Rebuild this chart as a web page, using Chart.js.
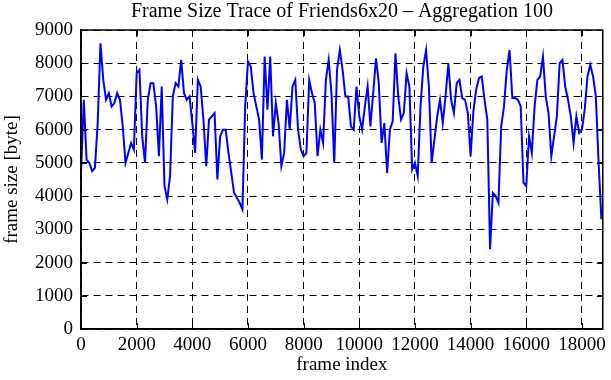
<!DOCTYPE html>
<html>
<head>
<meta charset="utf-8">
<script src="https://cdn.jsdelivr.net/npm/chart.js@4"></script>
<style>
  html, body { margin: 0; padding: 0; background: #fff; }
  #caixa { width: 611px; height: 380px; }
</style>
</head>
<body>
<div id="caixa"><canvas id="graficoTrace" width="611" height="380"></canvas></div>
<script>
// Dados do trace (um ponto a cada 100 quadros)
const PASSO_AGREGACAO = 100;
const tamanhoQuadro = [
  4700, 6900, 5100, 5000, 4750, 4850, 6200, 8600, 7500, 6900,
  7100, 6700, 6800, 7100, 6900, 6100, 5000, 5300, 5600, 5400,
  7700, 7800, 5800, 5000, 6900, 7400, 7400, 6700, 5200, 7300,
  4300, 3900, 4600, 7000, 7400, 7300, 8100, 7100, 6900, 7000,
  6200, 5300, 7500, 7300, 6300, 4900, 6300, 6400, 6500, 4500,
  5800, 6000, 6000, 5300, 4700, 4100, 3950, 3800, 3600, 6700,
  8050, 7900, 7100, 6700, 6300, 5100, 8200, 6600, 8200, 5800,
  6800, 6200, 4900, 5300, 6900, 6000, 7300, 7500, 6000, 5400,
  5200, 5300, 7500, 7100, 6800, 5200, 6000, 5600, 7500, 8100,
  7100, 5000, 7800, 8400, 7800, 7000, 7000, 6100, 6000, 7300,
  6400, 6000, 6700, 7300, 6100, 7100, 8150, 7400, 5600, 6200,
  4700, 6000, 6250, 8300, 7000, 6300, 6500, 7700, 7300, 4800,
  5000, 4600, 6700, 7900, 8400, 7300, 5000, 5700, 6400, 6900,
  6200, 7000, 8000, 6900, 6500, 7400, 7500, 6950, 6900, 6500,
  5200, 6550, 7200, 7550, 7600, 6900, 6300, 2400, 4100, 4000,
  3800, 6100, 6700, 7800, 8400, 6950, 6950, 6900, 6700, 4400,
  4300, 5800, 5300, 6700, 7500, 7600, 8200, 7000, 6500, 5200,
  5800, 6400, 8000, 8100, 7300, 6900, 6400, 5600, 6400, 5900,
  6000, 6600, 7600, 7950, 7600, 7000, 5000, 3300
];

// Ticks dos eixos
const ticksX = [0, 2000, 4000, 6000, 8000, 10000, 12000, 14000, 16000, 18000];
const ticksY = [0, 1000, 2000, 3000, 4000, 5000, 6000, 7000, 8000, 9000];
const MAX_X = 18750;

// Monta os pontos {x, y} pro chart
const pontos = tamanhoQuadro.map((v, i) => ({ x: i * PASSO_AGREGACAO, y: v }));

const FONTE = 'Liberation Serif';

// Desenha a moldura e os tiquinhos pra dentro (estilo gnuplot)
const molduraPlugin = {
  id: 'moldura',
  afterDraw(chart) {
    const ctx = chart.ctx;
    const area = chart.chartArea;
    const sx = chart.scales.x;
    const sy = chart.scales.y;
    ctx.save();
    ctx.strokeStyle = '#000';
    ctx.lineWidth = 1;
    ctx.beginPath();
    sx.ticks.forEach(t => {
      const px = Math.round(sx.getPixelForValue(t.value)) + 0.5;
      ctx.moveTo(px, area.bottom); ctx.lineTo(px, area.bottom - 6);
      ctx.moveTo(px, area.top); ctx.lineTo(px, area.top + 6);
    });
    sy.ticks.forEach(t => {
      const py = Math.round(sy.getPixelForValue(t.value)) + 0.5;
      ctx.moveTo(area.left, py); ctx.lineTo(area.left + 6, py);
      ctx.moveTo(area.right, py); ctx.lineTo(area.right - 6, py);
    });
    ctx.stroke();
    ctx.lineWidth = 1.5;
    ctx.strokeRect(area.left, area.top, area.right - area.left, area.bottom - area.top);
    ctx.restore();
  }
};

// Sem separador de milhar nos ticks
const semVirgula = v => String(v);

const contexto = document.getElementById('graficoTrace').getContext('2d');
const grafico = new Chart(contexto, {
  type: 'line',
  data: {
    datasets: [{
      data: pontos,
      borderColor: '#0000ff',
      borderWidth: 2,
      pointRadius: 0,
      tension: 0,
      fill: false
    }]
  },
  options: {
    responsive: false,
    animation: false,
    devicePixelRatio: 1,
    layout: { padding: { left: 0, right: 2, top: 0, bottom: 0 } },
    plugins: {
      legend: { display: false },
      tooltip: { enabled: false },
      title: {
        display: true,
        fullSize: false,
        text: 'Frame Size Trace of Friends6x20 \u2013 Aggregation 100',
        color: '#000',
        font: { family: FONTE, size: 20, weight: 'normal' },
        padding: { top: 0, bottom: 6 }
      }
    },
    scales: {
      x: {
        type: 'linear',
        min: 0,
        max: MAX_X,
        afterBuildTicks: s => { s.ticks = ticksX.map(v => ({ value: v })); },
        afterFit: s => { s.height = 51; },
        grid: { color: '#000', lineWidth: 1, drawTicks: false },
        border: { color: '#000', width: 1.5, dash: [7, 5] },
        ticks: { color: '#000', font: { family: FONTE, size: 19 }, padding: 5, maxRotation: 0, autoSkip: false, callback: semVirgula },
        title: { display: true, text: 'frame index', color: '#000', font: { family: FONTE, size: 19 }, padding: { top: 0, bottom: 4 } }
      },
      y: {
        min: 0,
        max: 9000,
        afterBuildTicks: s => { s.ticks = ticksY.map(v => ({ value: v })); },
        afterFit: s => { s.width = 81; },
        grid: { color: '#000', lineWidth: 1, drawTicks: false },
        border: { color: '#000', width: 1.5, dash: [7, 5] },
        ticks: { color: '#000', font: { family: FONTE, size: 19 }, padding: 8, autoSkip: false, callback: semVirgula },
        title: { display: true, text: 'frame size [byte]', color: '#000', font: { family: FONTE, size: 19 }, padding: { top: 1, bottom: 0 } }
      }
    }
  },
  plugins: [molduraPlugin]
});
</script>
</body>
</html>
